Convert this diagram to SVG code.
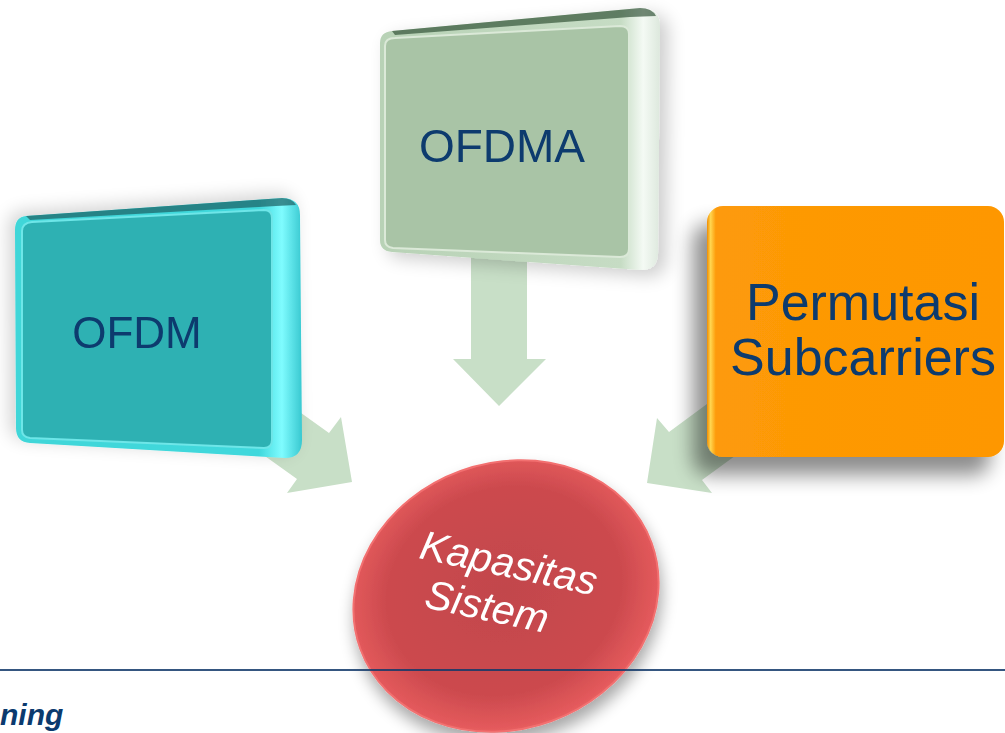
<svg xmlns="http://www.w3.org/2000/svg" width="1005" height="733" viewBox="0 0 1005 733">
<defs>
<style>
.arrow{fill:#c8dfc7}
.lbl{font-family:"Liberation Sans",Arial,sans-serif;fill:#0b3a6e}
.disc{font-family:"Liberation Sans",Arial,sans-serif;fill:#ffffff;font-style:italic;font-size:41px}
</style>
<filter id="shOrange" x="-30%" y="-30%" width="160%" height="170%">
<feGaussianBlur in="SourceAlpha" stdDeviation="10"/>
<feOffset dx="-14" dy="18" result="b"/>
<feComponentTransfer><feFuncA type="linear" slope="0.45"/></feComponentTransfer>
<feMerge><feMergeNode/><feMergeNode in="SourceGraphic"/></feMerge>
</filter>
<filter id="shSoft" x="-20%" y="-20%" width="140%" height="150%">
<feGaussianBlur in="SourceAlpha" stdDeviation="9"/>
<feOffset dx="-6" dy="-4" result="b"/>
<feComponentTransfer><feFuncA type="linear" slope="0.18"/></feComponentTransfer>
<feMerge><feMergeNode/><feMergeNode in="SourceGraphic"/></feMerge>
</filter>
<filter id="shGreen" x="-20%" y="-20%" width="150%" height="150%">
<feGaussianBlur in="SourceAlpha" stdDeviation="9"/>
<feOffset dx="8" dy="6" result="b"/>
<feComponentTransfer><feFuncA type="linear" slope="0.2"/></feComponentTransfer>
<feMerge><feMergeNode/><feMergeNode in="SourceGraphic"/></feMerge>
</filter>
<filter id="shDisc" x="-20%" y="-20%" width="140%" height="150%">
<feGaussianBlur in="SourceAlpha" stdDeviation="8"/>
<feOffset dx="2" dy="10" result="b"/>
<feComponentTransfer><feFuncA type="linear" slope="0.35"/></feComponentTransfer>
<feMerge><feMergeNode/><feMergeNode in="SourceGraphic"/></feMerge>
</filter>
<linearGradient id="gCyanEdge" x1="0" y1="0" x2="1" y2="0">
<stop offset="0" stop-color="#3fd6d8"/>
<stop offset="0.85" stop-color="#40d8dc"/>
<stop offset="0.93" stop-color="#7ffcff"/>
<stop offset="1" stop-color="#38c8d0"/>
</linearGradient>
<linearGradient id="gGreenEdge" x1="0" y1="0" x2="1" y2="0">
<stop offset="0" stop-color="#b8d2b6"/>
<stop offset="0.86" stop-color="#c6dcc4"/>
<stop offset="0.94" stop-color="#f4faf4"/>
<stop offset="1" stop-color="#dde8dd"/>
</linearGradient>
<linearGradient id="gOrange" x1="0" y1="0" x2="1" y2="0">
<stop offset="0" stop-color="#f08c00"/>
<stop offset="0.012" stop-color="#ffd650"/>
<stop offset="0.03" stop-color="#fd9a08"/>
<stop offset="1" stop-color="#fe9700"/>
</linearGradient>
<radialGradient id="gRed" cx="0.5" cy="0.48" r="0.55">
<stop offset="0" stop-color="#c2464c"/>
<stop offset="0.7" stop-color="#cc4a4e"/>
<stop offset="0.92" stop-color="#e45a5c"/>
<stop offset="1" stop-color="#f06a6a"/>
</radialGradient>
</defs>
<rect width="1005" height="733" fill="#ffffff"/>

<g id="connectors">
<path class="arrow" d="M471,250 L527,250 L527,359 L546,359 L499,406 L453,359 L471,359 Z"/>
<path class="arrow" d="M248,375 L329,433 L341,417 L352,482 L287,493 L297,479 L216,421 Z"/>
<path class="arrow" d="M749,373 L669,432 L657,418 L647,483 L712,493 L702,480 L783,421 Z"/>
</g>

<g id="node-ofdm" filter="url(#shSoft)">
<path d="M26,216 L282,198 Q300,198 300,215 L302,440 Q302,458 285,458 L30,443 Q16,442 16,428 L15,230 Q15,217 26,216 Z" fill="url(#gCyanEdge)"/>
<path d="M26,216 L282,198 Q292,198 296,205 L276,206 L30,220 Z" fill="#1d5f63" opacity="0.7"/>
<path d="M32,222 L264,210 Q272,210 272,218 L272,440 Q272,448 264,448 L30,438 Q22,437 22,430 L22,231 Q22,223 32,222 Z" fill="#2fb1b3" stroke="#6ee6e8" stroke-width="2"/>
<text class="lbl" x="137" y="348" font-size="44" text-anchor="middle">OFDM</text>
</g>

<g id="node-ofdma" filter="url(#shGreen)">
<path d="M392,31 L640,8 Q660,8 660,26 L658,254 Q657,271 640,270 L392,252 Q380,251 380,240 L380,43 Q380,32 392,31 Z" fill="url(#gGreenEdge)"/>
<path d="M392,31 L640,8 Q652,8 656,16 L630,17 L395,35 Z" fill="#284a2e" opacity="0.65"/>
<path d="M395,38 L620,26 Q629,26 629,34 L629,249 Q629,257 620,257 L393,248 Q385,247 385,240 L385,46 Q385,38 395,38 Z" fill="#a9c4a6" stroke="#dbe9d8" stroke-width="2"/>
<text class="lbl" x="502" y="162" font-size="46" text-anchor="middle">OFDMA</text>
</g>

<g id="node-permutasi" filter="url(#shOrange)">
<rect x="707" y="206" width="297" height="251" rx="16" fill="url(#gOrange)"/>
<text class="lbl" x="863" y="320" font-size="52" text-anchor="middle">Permutasi</text>
<text class="lbl" x="863" y="375" font-size="52" text-anchor="middle">Subcarriers</text>
</g>

<g id="node-kapasitas" filter="url(#shDisc)">
<ellipse cx="506" cy="596" rx="155" ry="133" transform="rotate(-20 506 596)" fill="url(#gRed)" stroke="#f27070" stroke-width="2"/>
<g transform="translate(418,558) rotate(12)">
<text class="disc" x="0" y="0">Kapasitas</text>
<text class="disc" x="15" y="47">Sistem</text>
</g>
</g>

<line x1="0" y1="670" x2="1005" y2="670" stroke="#12386a" stroke-width="2" stroke-opacity="0.85"/>
<text x="0" y="725" font-family="Liberation Sans,Arial,sans-serif" font-size="30" font-weight="bold" font-style="italic" fill="#0b3a6e">ning</text>
</svg>
